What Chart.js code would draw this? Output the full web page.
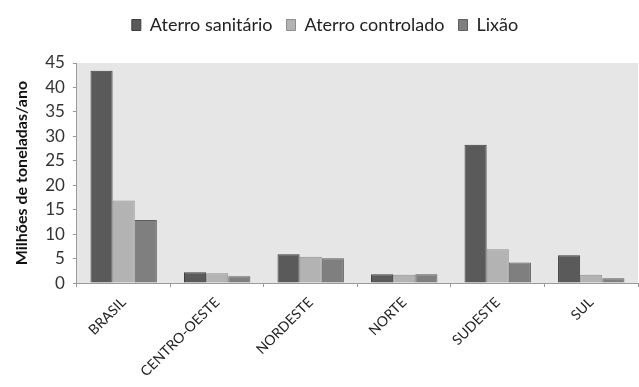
<!DOCTYPE html>
<html>
<head>
<meta charset="utf-8">
<script src="https://cdn.jsdelivr.net/npm/chart.js@4/dist/chart.umd.min.js"></script>
<style>
  html, body { margin: 0; padding: 0; background: #ffffff; }
  #wrap { width: 639px; height: 387px; position: relative; }
</style>
</head>
<body>
<div id="wrap"><canvas id="c" width="639" height="387"></canvas></div>
<script>
// Regiões e destinação final dos resíduos (milhões de toneladas/ano)
const categories = ['BRASIL', 'CENTRO-OESTE', 'NORDESTE', 'NORTE', 'SUDESTE', 'SUL'];
const aterroSanitario = [43.4, 2.2, 5.9, 1.8, 28.3, 5.7];
const aterroControlado = [16.9, 2.0, 5.4, 1.7, 6.9, 1.7];
const lixao = [12.9, 1.4, 5.1, 1.8, 4.2, 1.0];
const yTicks = [0, 5, 10, 15, 20, 25, 30, 35, 40, 45];

const FONT = 'Lato, "Open Sans", sans-serif';

// Fundo cinza da área de plotagem
const plotBackground = {
  id: 'plotBackground',
  beforeDraw(chart) {
    const { ctx, chartArea: a } = chart;
    ctx.save();
    ctx.fillStyle = '#e6e6e6';
    ctx.fillRect(a.left, a.top, a.right - a.left, a.bottom - a.top);
    ctx.restore();
  }
};

// Espaço extra abaixo da legenda
const legendSpacing = {
  id: 'legendSpacing',
  beforeInit(chart) {
    const legend = chart.legend;
    const fit = legend.fit;
    legend.fit = function () {
      fit.call(this);
      this.height += 19;
    };
  }
};

new Chart(document.getElementById('c'), {
  type: 'bar',
  data: {
    labels: categories,
    datasets: [
      { label: 'Aterro sanitário', data: aterroSanitario, backgroundColor: '#5a5a5a', borderColor: '#3e3e3e', borderWidth: 1 },
      { label: 'Aterro controlado', data: aterroControlado, backgroundColor: '#b3b3b3', borderColor: '#8e8e8e', borderWidth: 1 },
      { label: 'Lixão', data: lixao, backgroundColor: '#7f7f7f', borderColor: '#5f5f5f', borderWidth: 1 }
    ]
  },
  options: {
    responsive: false,
    animation: false,
    devicePixelRatio: 1,
    layout: { padding: { top: 2, right: 1, left: 12, bottom: 0 } },
    datasets: { bar: { categoryPercentage: 0.71, barPercentage: 1.0 } },
    plugins: {
      legend: {
        position: 'top',
        labels: {
          boxWidth: 9, boxHeight: 11, padding: 14,
          color: '#222222',
          font: { family: FONT, size: 18 }
        }
      },
      tooltip: { enabled: false }
    },
    scales: {
      x: {
        grid: { offset: true, drawOnChartArea: false, drawTicks: true, tickLength: 4, color: '#9a9a9a' },
        border: { color: '#9a9a9a' },
        ticks: {
          minRotation: 45, maxRotation: 45,
          color: '#222222',
          font: { family: FONT, size: 14 },
          padding: 7
        }
      },
      y: {
        min: 0, max: 45,
        afterBuildTicks(scale) { scale.ticks = yTicks.map(v => ({ value: v })); },
        grid: { drawOnChartArea: false, drawTicks: true, tickLength: 4, color: '#9a9a9a' },
        border: { color: '#9a9a9a' },
        ticks: { autoSkip: false, color: '#333333', font: { family: FONT, size: 17 }, padding: 8 },
        title: {
          display: true,
          text: 'Milhões de toneladas/ano',
          color: '#111111',
          font: { family: FONT, size: 16, weight: 'bold' },
          padding: { top: 0, bottom: 6 }
        }
      }
    }
  },
  plugins: [plotBackground, legendSpacing]
});
</script>
</body>
</html>
